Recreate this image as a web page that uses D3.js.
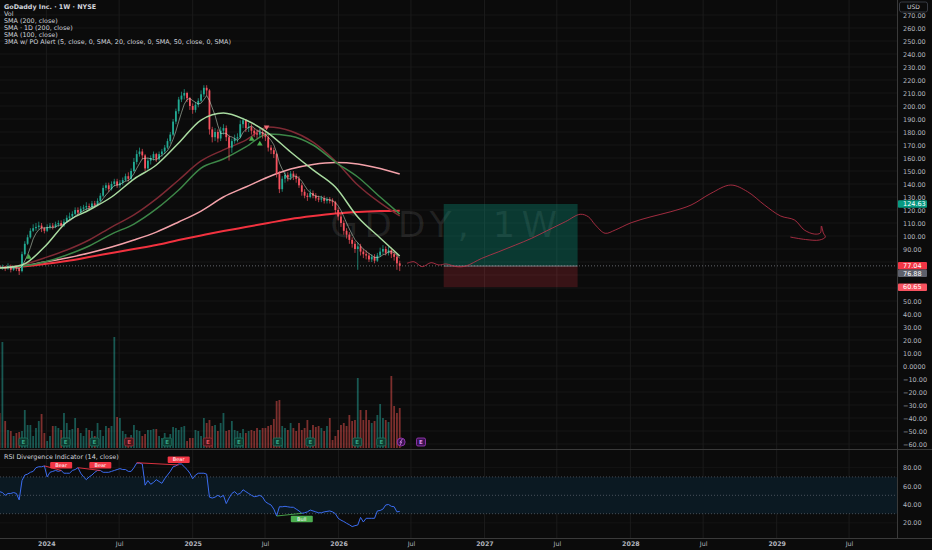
<!DOCTYPE html>
<html>
<head>
<meta charset="utf-8">
<script src="https://cdn.jsdelivr.net/npm/d3@7"></script>
<style>
  body { margin: 0; background: #0b0b0b; }
  svg { display: block; }
</style>
</head>
<body>
<div id="chart"></div>
<script>
var width = 932;
var height = 550;
var plotRight = 897;
var rsiTop = 449;
var rsiBottom = 538;
var fontName = "DejaVu Sans, sans-serif";

// weekly candles, week 0 = first bar on the left edge
var firstWeek = Date.UTC(2023, 8, 6);
var firstOpen = 77;
var closes = [76,76,75,77,74,76,75,73,86,94,
  99,104,106,107,108,106,104,107,108,107,
  109,110,108,111,114,115,117,120,118,121,
  122,123,122,125,124,127,131,137,139,136,
  140,142,139,141,143,146,144,150,157,163,
  165,162,152,158,160,163,159,163,165,168,
  173,178,188,196,205,208,210,206,200,197,
  201,204,209,214,212,182,176,180,175,181,
  183,176,168,173,175,176,186,189,183,184,
  181,179,178,180,178,176,168,166,163,148,
  136,144,147,145,148,146,144,139,134,131,
  130,133,131,129,128,129,127,128,127,126,
  120,115,110,104,101,97,94,90,92,88,
  86,85,82,84,81,85,88,90,87,89,
  86,84,79,77.04];
var highs = [78,78,77,79,78,77,77,76,88,96,
  101,106,109,110,111,110,107,109,110,110,
  111,112,112,113,116,118,119,122,122,123,
  124,126,125,127,127,129,133,139,141,141,
  142,144,144,143,145,148,149,152,160,166,
  168,167,163,160,162,165,164,165,167,170,
  175,180,190,198,207,211,213,211,207,202,
  203,206,212,216,216,213,184,183,182,184,
  186,185,178,175,178,179,189,191,190,187,
  186,183,182,183,182,181,178,170,168,164,
  150,146,149,149,150,150,148,146,141,136,
  133,136,135,133,131,131,131,130,130,129,
  127,122,117,112,106,103,99,96,95,94,
  90,89,87,86,86,87,91,93,92,92,
  91,88,86,81];
var lows = [74,74,73,74,72,73,73,70,72,85,
  93,98,103,104,105,103,102,103,105,105,
  106,107,106,107,110,112,113,116,116,117,
  119,120,120,121,122,123,126,130,135,134,
  135,138,137,137,139,142,142,143,149,155,
  161,159,150,151,155,158,157,158,161,163,
  167,171,177,186,194,203,205,203,197,194,
  195,199,203,207,208,178,172,173,172,173,
  178,173,158,164,171,172,175,183,180,180,
  178,176,175,176,175,173,165,163,160,145,
  133,134,141,142,143,143,141,137,131,129,
  127,129,129,127,126,126,125,125,125,123,
  117,112,107,101,98,94,91,87,74,85,
  83,82,80,80,79,80,84,86,85,85,
  83,81,74,73];
// volume, millions of shares
var volumes = [3.5,10.6,2.7,1.8,1.7,1.2,1.5,1.6,1.7,3.8,
  2.3,2.3,1.2,2.0,2.7,3.4,1.5,0.7,1.2,2.2,
  2.2,2.0,1.8,3.5,2.5,1.8,1.9,3.0,2.0,1.5,
  1.2,2.0,1.8,1.7,1.2,2.5,1.8,1.2,2.2,2.0,
  2.2,11.1,3.1,3.0,1.7,1.4,1.0,1.3,2.3,1.8,
  1.7,1.2,1.4,1.8,1.8,1.9,1.9,1.2,1.0,1.5,
  0.7,1.4,2.1,2.0,1.8,2.1,2.2,0.7,1.0,1.0,
  1.8,1.7,1.2,3.0,2.5,2.8,2.2,2.3,1.7,2.5,
  3.5,1.7,1.8,2.7,1.8,1.7,1.5,1.9,1.5,1.7,
  1.8,1.7,2.0,1.8,2.0,2.0,2.2,2.3,2.9,4.7,
  4.8,2.2,2.0,1.8,2.5,2.0,1.7,2.5,1.8,2.0,
  2.8,1.8,2.3,2.1,2.2,2.0,1.7,2.2,3.0,0.8,
  1.2,1.8,2.3,2.5,2.2,3.3,2.7,2.8,7.0,3.8,
  2.8,3.8,2.8,2.5,2.7,3.3,4.4,3.0,2.8,2.6,
  7.2,4.2,3.5,4.0];
var rsiValues = [54,53,50,52,52,53,52,45,66,72,
  73,75,76,80,81,81,82,70,75,76,
  77,76,77,74,74,74,77,78,80,74,
  70,67,70,72,75,77,77,75,75,75,
  76,77,78,79,78,78,76,76,80,85,
  85,84,61,66,62,64,67,65,63,68,
  72,76,81,82,84,84,81,78,74,68,
  72,74,74,74,73,48,47,48,50,48,
  50,41,47,52,54,51,52,56,54,52,
  50,48.5,49,50,48,43,41,39.5,35,27.5,
  37.6,37.5,38,37.5,37,37,35,33,30.4,31,
  32,34,33,32,31,31,32,32.5,33,32,
  30,25,23,21.5,19.6,18,16,17,17.7,26,
  21,25,25,25,25,33,33.5,35,39.5,40,
  38,37.6,32,32.5];

// moving averages at these weeks
var maWeeks = [0,8,16,24,32,40,48,56,64,72,80,88,96,104,112,120,128,136,143];
var sma200 = [75.4,76.5,78.5,80.8,83.8,86.9,90,93.1,96.9,100.4,103.8,106.9,110,113.1,115.4,117.3,118.5,119.2,119.5];
var sma1d200 = [75.4,77.7,83.1,89.2,96.9,106.9,116.2,128.5,143.1,157.7,166.2,173.8,183.8,180.8,172.3,157.7,139.2,125.4,115.4];
var sma100 = [75.4,76.9,80,83.1,86.9,91.5,96.9,103,110.8,119.2,130,137.7,145.4,151.5,155,156.5,155.4,151.9,147.7];
var ma20 = [75.4,77.7,91.5,110.8,120,130,143.8,154.6,171.5,189.2,194.6,189.2,179.2,164.6,150.8,137.7,114.6,98.5,84.6];
var ma50 = [75.4,76.9,80,85.4,92.3,101.5,109.2,120.8,135.4,152.3,159.2,168.5,178.5,176.9,170,156.9,145.4,130,116.9];

// hand drawn projection
var projWeeks = [145.6,148.1,151,154.2,157,159.5,163.4,166.6,172.3,178.4,184.4,190.1,196.1,202.2,207.5,210.4,212.9,216.4,220,225.7,232.8,239.9,247.1,254.2,261.3,267.3,273.4,279.1,284.1,287.6,291.2,293.3,293.7,294.4,295.1,293,288,282.6];
var projPrices = [79,80.2,76.4,79.5,77.7,78.5,76.4,76.9,82.8,87.9,93.1,98.2,104.6,111,116.7,114.8,108.5,102.1,104.6,110.2,114.8,118.7,123.8,132.8,139.2,134.1,123.8,115.4,112.3,104.6,101.5,102.3,107.7,102.3,99.2,96.9,97.3,99.2];

// long position tool
var boxDates = ["2026-09-21", "2027-08-22"];
var boxTarget = 124.63;
var boxEntry = 76.88;
var boxStop = 60.65;
var lastPrice = 77.04;

var tagValues = [124.63, 77.04, 76.88, 60.65];
var tagColors = ["#089981", "#f23645", "#5d606b", "#f7525f"];

// earnings markers
var earnWeeks = [8.5,23.6,33.9,46.3,59.9,74.4,85.5,99.4,111.1,127.8,136.4,150.6];
var earnKinds = ["g","g","g","r","g","r","g","g","g","g","g","p"];
var dividendWeek = 143.5;

// alert triangles on price
var markWeeks = [10.4, 90.1, 93, 95.4];
var markPrices = [83.8, 174.6, 170.8, 183.8];
var markDirs = ["up", "up", "up", "down"];

// rsi divergences
var divStartWeek = [16, 28, 49, 99];
var divStartRsi = [82, 80, 85.4, 27.5];
var divEndWeek = [22, 36, 64, 108];
var divEndRsi = [77, 77, 83, 30.4];
var divKind = ["Bear", "Bear", "Bear", "Bull"];

var priceTicks = d3.range(-60, 271, 10);
var rsiTicks = [20, 40, 60, 80];
var timeTicks = ["2024-01-01","2024-07-01","2025-01-01","2025-07-01","2026-01-01","2026-07-01",
  "2027-01-01","2027-07-01","2028-01-01","2028-07-01","2029-01-01","2029-07-01"];

var legendLines = ["GoDaddy Inc. · 1W · NYSE", "Vol", "SMA (200, close)", "SMA · 1D (200, close)",
  "SMA (100, close)", "3MA w/ PO Alert (5, close, 0, SMA, 20, close, 0, SMA, 50, close, 0, SMA)"];

function weekDate(w) { return new Date(firstWeek + w * 7 * 86400000); }
var parseDay = d3.utcParse("%Y-%m-%d");

var x = d3.scaleTime()
    .domain([new Date(Date.UTC(2023, 8, 7)), new Date(Date.UTC(2029, 9, 29))])
    .range([0, plotRight]);
var y = d3.scaleLinear().domain([0, 100]).range([366, 236]);
var yVol = d3.scaleLinear().domain([0, 12]).range([448, 328]);
var yRsi = d3.scaleLinear().domain([0, 100]).range([541.3, 449.3]);

var candles = closes.map(function(c, i) {
    return { date: weekDate(i), o: i ? closes[i - 1] : firstOpen, h: highs[i], l: lows[i], c: c,
             v: volumes[i], rsi: rsiValues[i] };
});

// price tags on the axis, pushed down when they collide
var tagY = [];
tagValues.forEach(function(v, i) {
    var cy = y(v);
    if (i > 0 && cy < tagY[i - 1] + 7.5) cy = tagY[i - 1] + 7.5;
    tagY.push(cy);
});
// axis labels hidden behind a tag are left out
var shownTicks = priceTicks.filter(t => tagY.every(ty => Math.abs(y(t) - ty) >= 6));

var svg = d3.select("#chart")
    .append("svg")
    .attr("width", width)
    .attr("height", height)
    .style("background", "#0b0b0b");

var defs = svg.append("defs");
defs.append("clipPath").attr("id", "clipPrice")
    .append("rect").attr("x", 0).attr("y", 0).attr("width", plotRight).attr("height", rsiTop);
defs.append("clipPath").attr("id", "clipRsi")
    .append("rect").attr("x", 0).attr("y", rsiTop).attr("width", plotRight).attr("height", rsiBottom - rsiTop);

// grid
var grid = svg.append("g");
grid.selectAll("line.h").data(priceTicks).join("line")
    .attr("x1", 0).attr("x2", plotRight)
    .attr("y1", d => y(d)).attr("y2", d => y(d))
    .attr("stroke", "#161616");
grid.selectAll("line.r").data(rsiTicks).join("line")
    .attr("x1", 0).attr("x2", plotRight)
    .attr("y1", d => yRsi(d)).attr("y2", d => yRsi(d))
    .attr("stroke", "#141414");
grid.selectAll("line.v").data(timeTicks).join("line")
    .attr("x1", d => x(parseDay(d))).attr("x2", d => x(parseDay(d)))
    .attr("y1", 0).attr("y2", rsiBottom)
    .attr("stroke", "#1b1b1b");

var pane = svg.append("g").attr("clip-path", "url(#clipPrice)");

// watermark
pane.append("text")
    .attr("x", 563)
    .attr("y", 237)
    .attr("text-anchor", "end")
    .style("font-family", fontName)
    .style("font-size", "36px")
    .style("letter-spacing", "6px")
    .attr("fill", "rgba(255,255,255,0.09)")
    .text("GDDY, 1W");

// long position box
var bx0 = x(parseDay(boxDates[0]));
var bx1 = x(parseDay(boxDates[1]));
pane.append("rect")
    .attr("x", bx0).attr("width", bx1 - bx0)
    .attr("y", y(boxTarget)).attr("height", y(boxEntry) - y(boxTarget))
    .attr("fill", "rgba(8,153,129,0.33)");
pane.append("rect")
    .attr("x", bx0).attr("width", bx1 - bx0)
    .attr("y", y(boxEntry)).attr("height", y(boxStop) - y(boxEntry))
    .attr("fill", "rgba(242,54,69,0.2)");
pane.append("line")
    .attr("x1", bx0).attr("x2", bx1)
    .attr("y1", y(boxEntry)).attr("y2", y(boxEntry))
    .attr("stroke", "#8d8f96").attr("stroke-width", 0.8);

// last price line
pane.append("line")
    .attr("x1", 0).attr("x2", plotRight)
    .attr("y1", y(lastPrice)).attr("y2", y(lastPrice))
    .attr("stroke", "#8a8d96")
    .attr("stroke-opacity", 0.7)
    .attr("stroke-dasharray", "1,2");

// volume
var bw = 1.8;
pane.selectAll("rect.vol").data(candles).join("rect")
    .attr("x", d => x(d.date) - bw / 2)
    .attr("width", bw)
    .attr("y", d => yVol(d.v))
    .attr("height", d => yVol(0) - yVol(d.v))
    .attr("fill", d => d.c >= d.o ? "#26a69a" : "#ef5350")
    .attr("fill-opacity", 0.5);

// earnings badges
var badgeStyle = {
    g: { fill: "#0e3a30", stroke: "#1f7a63", text: "#34a383" },
    r: { fill: "#48151a", stroke: "#a3303a", text: "#e0505c" },
    p: { fill: "#3a1250", stroke: "#a43cc4", text: "#dc8cf0" }
};
var badges = pane.selectAll("g.badge").data(earnWeeks).join("g")
    .attr("transform", (d, i) => "translate(" + x(weekDate(d)) + ",442)");
badges.append("rect")
    .attr("x", -4.5).attr("y", -4).attr("width", 9).attr("height", 8).attr("rx", 1.5)
    .attr("fill", (d, i) => badgeStyle[earnKinds[i]].fill)
    .attr("stroke", (d, i) => badgeStyle[earnKinds[i]].stroke)
    .attr("stroke-width", 0.8);
badges.append("text")
    .attr("text-anchor", "middle").attr("y", 2)
    .style("font-family", fontName).style("font-size", "5.5px").style("font-weight", "bold")
    .attr("fill", (d, i) => badgeStyle[earnKinds[i]].text)
    .text("E");
var divX = x(weekDate(dividendWeek));
pane.append("circle")
    .attr("cx", divX).attr("cy", 442).attr("r", 4)
    .attr("fill", "#3a1250").attr("stroke", "#a43cc4").attr("stroke-width", 0.8);
pane.append("path")
    .attr("d", "M" + (divX + 1.2) + ",439 L" + (divX - 1.2) + ",442.4 L" + (divX + 0.6) + ",441.8 L" + (divX - 1) + ",445")
    .attr("fill", "none").attr("stroke", "#dc8cf0").attr("stroke-width", 0.8);

// moving averages
var maLine = d3.line()
    .x(d => x(weekDate(d.w)))
    .y(d => y(d.v))
    .curve(d3.curveMonotoneX);
function maData(values) { return maWeeks.map((w, i) => ({ w: w, v: values[i] })); }

pane.append("path").datum(maData(sma100)).attr("d", maLine)
    .attr("fill", "none").attr("stroke", "#f4a2aa").attr("stroke-width", 1.5);
pane.append("path").datum(maData(sma200)).attr("d", maLine)
    .attr("fill", "none").attr("stroke", "#f2323f").attr("stroke-width", 2);
pane.append("path").datum(maData(sma1d200)).attr("d", maLine)
    .attr("fill", "none").attr("stroke", "#7e2a34").attr("stroke-width", 1.5);
pane.append("path").datum(maData(ma50)).attr("d", maLine)
    .attr("fill", "none").attr("stroke", "#3d8748").attr("stroke-width", 1.5);

// candles
pane.selectAll("line.wick").data(candles).join("line")
    .attr("x1", d => x(d.date)).attr("x2", d => x(d.date))
    .attr("y1", d => y(d.h)).attr("y2", d => y(d.l))
    .attr("stroke", d => d.c >= d.o ? "#22ab94" : "#f7525f")
    .attr("stroke-width", 0.7);
pane.selectAll("rect.body").data(candles).join("rect")
    .attr("x", d => x(d.date) - bw / 2)
    .attr("width", bw)
    .attr("y", d => y(Math.max(d.o, d.c)))
    .attr("height", d => Math.max(0.8, Math.abs(y(d.o) - y(d.c))))
    .attr("fill", d => d.c >= d.o ? "#22ab94" : "#f7525f");

pane.append("path").datum(maData(ma20)).attr("d", maLine)
    .attr("fill", "none").attr("stroke", "#a9dba0").attr("stroke-width", 1.5);

// 5 week average of the closes
var fast = candles.map(function(d, i) {
    var from = Math.max(0, i - 4);
    return { date: d.date, v: d3.mean(closes.slice(from, i + 1)) };
});
pane.append("path")
    .datum(fast)
    .attr("d", d3.line().x(d => x(d.date)).y(d => y(d.v)))
    .attr("fill", "none").attr("stroke", "#d7e8d2").attr("stroke-opacity", 0.75).attr("stroke-width", 0.7);

// alert triangles
pane.selectAll("path.mark").data(markWeeks).join("path")
    .attr("d", d3.symbol(d3.symbolTriangle).size(14))
    .attr("transform", (d, i) => "translate(" + x(weekDate(d)) + "," + y(markPrices[i]) + ")" +
        (markDirs[i] === "down" ? " rotate(180)" : ""))
    .attr("fill", (d, i) => markDirs[i] === "down" ? "#f06a72" : "#4caf50");

// projection
var projData = projWeeks.map((w, i) => ({ w: w, v: projPrices[i] }));
pane.append("path")
    .datum(projData)
    .attr("d", d3.line().x(d => x(weekDate(d.w))).y(d => y(d.v)).curve(d3.curveCatmullRom.alpha(0.5)))
    .attr("fill", "none").attr("stroke", "#c7334c").attr("stroke-width", 0.8);

// RSI pane
var rsiPane = svg.append("g").attr("clip-path", "url(#clipRsi)");
rsiPane.append("rect")
    .attr("x", 0).attr("width", plotRight)
    .attr("y", yRsi(70)).attr("height", yRsi(30) - yRsi(70))
    .attr("fill", "#0b1922");
rsiPane.selectAll("line.band").data([70, 50, 30]).join("line")
    .attr("x1", 0).attr("x2", plotRight)
    .attr("y1", d => yRsi(d)).attr("y2", d => yRsi(d))
    .attr("stroke", "#787b86").attr("stroke-opacity", 0.55).attr("stroke-dasharray", "1,2");
rsiPane.append("path")
    .datum(candles)
    .attr("d", d3.line().x(d => x(d.date)).y(d => yRsi(d.rsi)))
    .attr("fill", "none").attr("stroke", "#3b6cf0").attr("stroke-width", 1);

divKind.forEach(function(kind, i) {
    var col = kind === "Bear" ? "#f23645" : "#4caf50";
    var xe = x(weekDate(divEndWeek[i]));
    var ye = yRsi(divEndRsi[i]);
    rsiPane.append("line")
        .attr("x1", x(weekDate(divStartWeek[i]))).attr("y1", yRsi(divStartRsi[i]))
        .attr("x2", xe).attr("y2", ye)
        .attr("stroke", col).attr("stroke-width", 0.9);
    var ly = kind === "Bear" ? ye - 8.5 : ye + 2.5;
    rsiPane.append("rect")
        .attr("x", xe - 11).attr("y", ly).attr("width", 22).attr("height", 6.5).attr("rx", 1)
        .attr("fill", col);
    rsiPane.append("text")
        .attr("x", xe).attr("y", ly + 5)
        .attr("text-anchor", "middle")
        .style("font-family", fontName).style("font-size", "5px")
        .attr("fill", "#ffffff")
        .text(kind);
});

// pane borders
svg.append("line").attr("x1", 0).attr("x2", width).attr("y1", rsiTop + 0.5).attr("y2", rsiTop + 0.5)
    .attr("stroke", "#3a3a3a");
svg.append("line").attr("x1", 0).attr("x2", width).attr("y1", rsiBottom + 0.5).attr("y2", rsiBottom + 0.5)
    .attr("stroke", "#3a3a3a");
svg.append("line").attr("x1", plotRight + 0.5).attr("x2", plotRight + 0.5).attr("y1", 0).attr("y2", rsiBottom + 0.5)
    .attr("stroke", "#3a3a3a");

// axes
function fmtPrice(v) {
    if (v === 0) return "0.0000";
    return (v < 0 ? "\u2212" : "") + Math.abs(v).toFixed(2);
}
var priceAxis = d3.axisRight(y).tickValues(shownTicks).tickSize(0).tickPadding(6).tickFormat(fmtPrice);
svg.append("g")
    .attr("transform", "translate(" + plotRight + ",0)")
    .call(priceAxis)
    .call(g => g.select(".domain").remove())
    .attr("font-family", fontName)
    .attr("font-size", 6.5)
    .selectAll("text").attr("fill", "#b2b5be");

var rsiAxis = d3.axisRight(yRsi).tickValues(rsiTicks).tickSize(0).tickPadding(6).tickFormat(d => d.toFixed(2));
svg.append("g")
    .attr("transform", "translate(" + plotRight + ",0)")
    .call(rsiAxis)
    .call(g => g.select(".domain").remove())
    .attr("font-family", fontName)
    .attr("font-size", 6.5)
    .selectAll("text").attr("fill", "#b2b5be");

var timeAxis = d3.axisBottom(x)
    .tickValues(timeTicks.map(parseDay))
    .tickSize(0).tickPadding(4)
    .tickFormat(d => d.getUTCMonth() === 0 ? d3.utcFormat("%Y")(d) : d3.utcFormat("%b")(d));
svg.append("g")
    .attr("transform", "translate(0," + rsiBottom + ")")
    .call(timeAxis)
    .call(g => g.select(".domain").remove())
    .attr("font-family", fontName)
    .attr("font-size", 6.3)
    .selectAll("text")
    .attr("fill", "#b2b5be")
    .style("font-weight", d => d.getUTCMonth() === 0 ? "bold" : "normal");

var tags = svg.selectAll("g.tag").data(tagValues).join("g")
    .attr("transform", (d, i) => "translate(898," + tagY[i] + ")");
tags.append("rect")
    .attr("x", 0).attr("y", -3.75).attr("width", 29).attr("height", 7.5).attr("rx", 1)
    .attr("fill", (d, i) => tagColors[i]);
tags.append("text")
    .attr("x", 5).attr("y", 2.3)
    .style("font-family", fontName).style("font-size", "6.5px")
    .attr("fill", "#ffffff")
    .text(d => d.toFixed(2));

// currency box
svg.append("rect")
    .attr("x", 899.5).attr("y", 2).attr("width", 28).attr("height", 10).attr("rx", 2)
    .attr("fill", "#0b0b0b").attr("stroke", "#434651").attr("stroke-width", 0.8);
svg.append("text")
    .attr("x", 913.5).attr("y", 9.3)
    .attr("text-anchor", "middle")
    .style("font-family", fontName).style("font-size", "6px")
    .attr("fill", "#d1d4dc")
    .text("USD");

// legends
svg.selectAll("text.legend").data(legendLines).join("text")
    .attr("x", 4)
    .attr("y", (d, i) => 9 + i * 7)
    .style("font-family", fontName)
    .style("font-size", "6.4px")
    .style("font-weight", (d, i) => i === 0 ? "bold" : "normal")
    .attr("fill", "#d1d4dc")
    .text(d => d);

svg.append("text")
    .attr("x", 4)
    .attr("y", 458.5)
    .style("font-family", fontName)
    .style("font-size", "6.4px")
    .attr("fill", "#d1d4dc")
    .text("RSI Divergence Indicator (14, close)");
</script>
</body>
</html>
